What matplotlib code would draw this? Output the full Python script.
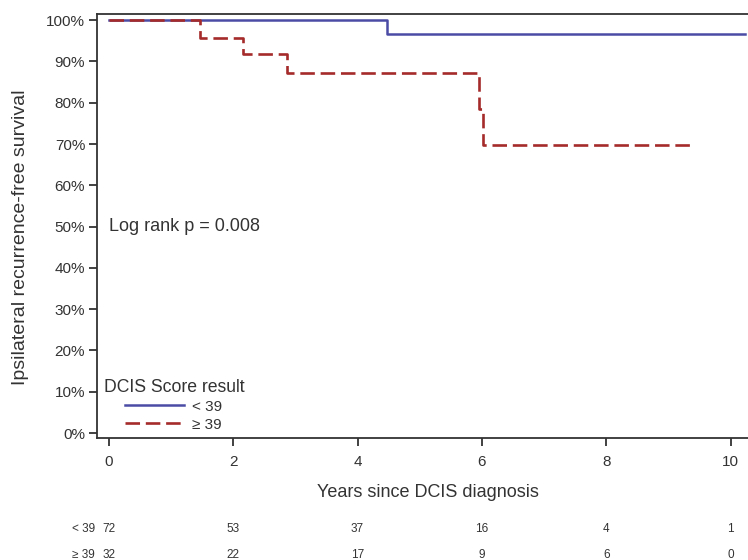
import numpy as np
import matplotlib.pyplot as plt
from matplotlib.ticker import PercentFormatter

plt.rcParams['font.family'] = ['Liberation Sans', 'DejaVu Sans']

# step curves (time in years, survival fraction)
low_t = [0, 4.47, 10.23]
low_s = [1.0, 0.966, 0.966]
high_t = [0, 1.47, 2.15, 2.87, 5.96, 6.02, 9.43]
high_s = [1.0, 0.958, 0.917, 0.871, 0.784, 0.697, 0.697]

# numbers at risk
risk_times = [0, 2, 4, 6, 8, 10]
risk_low = [72, 53, 37, 16, 4, 1]
risk_high = [32, 22, 17, 9, 6, 0]
group_labels = ['< 39', '\u2265 39']

text_col = '#333333'
blue = '#4b4ba6'
red = '#a52a2a'

fig = plt.figure(figsize=(7.48, 5.6), dpi=100)
ax = fig.add_axes([0.1297, 0.2179, 0.8703, 0.7571])

ax.step(low_t, low_s, where='post', color=blue, lw=1.8, label=group_labels[0])
ax.step(high_t, high_s, where='post', color=red, lw=1.9, dashes=(5.5, 2.2),
        label=group_labels[1])

ax.set_xlim(-0.19, 10.28)
ax.set_ylim(-0.012, 1.015)
ax.set_xticks(risk_times)
ax.set_yticks(np.arange(0, 1.01, 0.1))
ax.yaxis.set_major_formatter(PercentFormatter(1.0, decimals=0))

for s in ['left', 'bottom', 'top']:
    ax.spines[s].set_color(text_col)
    ax.spines[s].set_linewidth(1.3)
ax.spines['right'].set_visible(False)
ax.tick_params(colors=text_col, labelsize=11, length=6, width=1.3, direction='out', pad=2.5)
ax.tick_params(axis='x', pad=6)

ax.set_ylabel('Ipsilateral recurrence-free survival', fontsize=14, color=text_col)
ax.yaxis.set_label_coords(-0.104, 0.473)
ax.set_xlabel('Years since DCIS diagnosis', fontsize=13, color=text_col)
ax.xaxis.set_label_coords(0.509, -0.109)

ax.text(0, 0.5, 'Log rank p = 0.008', fontsize=13, color=text_col, va='center', ha='left')

# legend: title as text, samples indented
ax.text(0.011, 0.12, 'DCIS Score result', transform=ax.transAxes, fontsize=12.7,
        color=text_col, va='center', ha='left')
leg = ax.legend(loc='lower left', frameon=False, bbox_to_anchor=(0.043, 0.015),
                fontsize=11, handlelength=3.86, handletextpad=0.52, labelspacing=0.25,
                borderpad=0, borderaxespad=0)
for t in leg.get_texts():
    t.set_color(text_col)

# risk table below the axis
for row, (lab, vals) in enumerate(zip(group_labels, [risk_low, risk_high])):
    y = -0.215 - row * 0.062
    ax.text(-0.22, y, lab, transform=ax.get_xaxis_transform(), ha='right', va='center',
            fontsize=8.5, color=text_col)
    for t, v in zip(risk_times, vals):
        ax.text(t, y, str(v), transform=ax.get_xaxis_transform(), ha='center', va='center',
                fontsize=8.5, color=text_col)

fig.savefig('out.png', dpi=100)
